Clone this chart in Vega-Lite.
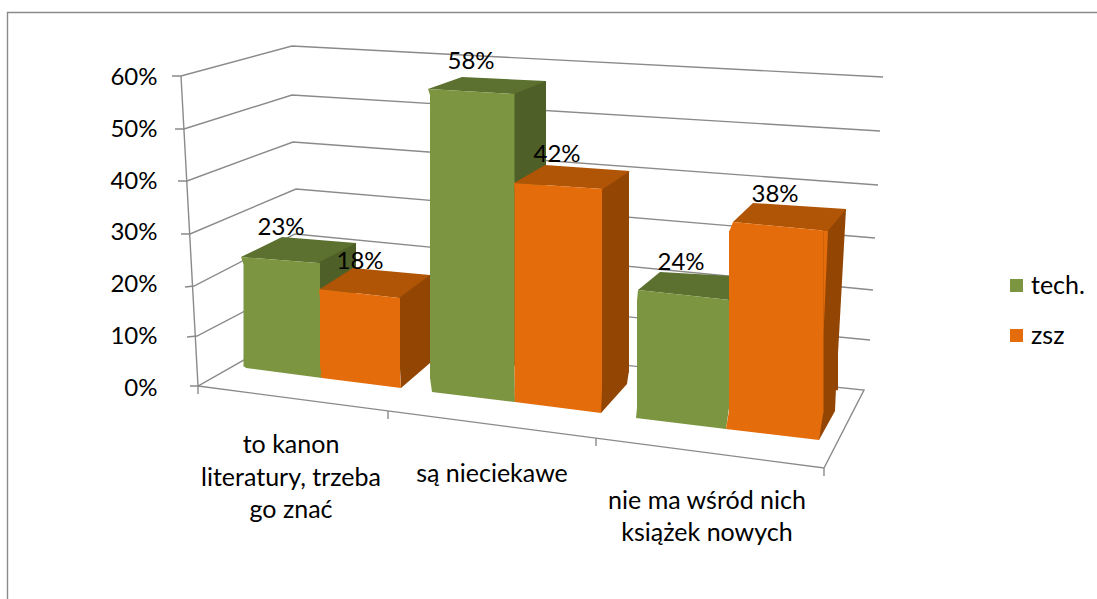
{
"$schema":"https://vega.github.io/schema/vega-lite/v6.json",
"width":1097,"height":599,"padding":0,"autosize":"none","background":"white",
"config":{"view":{"stroke":null},"font":"Lato"},
"datasets":{
"bars":[
{"category":"to kanon literatury, trzeba go znać","series":"tech.","value":0.23,"bar":"a"},
{"category":"to kanon literatury, trzeba go znać","series":"zsz","value":0.18,"bar":"b"},
{"category":"są nieciekawe","series":"tech.","value":0.58,"bar":"c"},
{"category":"są nieciekawe","series":"zsz","value":0.42,"bar":"d"},
{"category":"nie ma wśród nich książek nowych","series":"tech.","value":0.24,"bar":"e"},
{"category":"nie ma wśród nich książek nowych","series":"zsz","value":0.38,"bar":"f"}],
"ticks":[{"tick":0},{"tick":0.1},{"tick":0.2},{"tick":0.3},{"tick":0.4},{"tick":0.5},{"tick":0.6}],
"cats":[
{"category":"to kanon literatury, trzeba go znać","label":"to kanon|literatury, trzeba|go znać","group":"a","value":0},
{"category":"są nieciekawe","label":"są nieciekawe","group":"b","value":0},
{"category":"nie ma wśród nich książek nowych","label":"nie ma wśród nich|książek nowych","group":"c","value":0}]
},
"data":{"name":"bars"},
"encoding":{
"x":{"field":"category","type":"nominal","sort":null,"axis":null,"scale":{"domain":["to kanon literatury, trzeba go znać","są nieciekawe","nie ma wśród nich książek nowych"],"range":[217,832],"paddingInner":0,"paddingOuter":0}},
"y":{"field":"value","type":"quantitative","scale":{"domain":[0,0.6],"range":[386.5,76],"nice":false,"zero":false},"axis":{"orient":"left","offset":-160,"values":[0,0.1,0.2,0.3,0.4,0.5,0.6],"format":".0%","title":null,"domain":false,"grid":false,"ticks":false,"labelPadding":3,"labelFont":"Lato","labelFontSize":24,"labelColor":"#000000","labelOffset":1.5}}
},
"layer":[
{"data":{"name":"ticks"},
 "mark":{"type":"point","filled":false,"opacity":1,"size":4,"stroke":"#8a8a8a","strokeWidth":1.4,"fill":"transparent",
 "shape":{"expr":"{0:'M-129.5,-0.5L-121.5,-0.5L-24.5,-55.5L544.5,3.5L504.5,81.5L-121.5,-0.5M-138.5,-310.5L-121.5,-0.5L-121.5,7.5M68.5,24.5L68.5,32.5M276.5,51.5L276.5,59.5M504.5,81.5L504.5,89.5',10:'M-132.5,2.25L-122.5,1.25L-24.5,-49.75L550.5,5.25',20:'M-134.5,4L-125.5,3L-24.5,-49L553.5,7',30:'M-138.5,2.75L-129.5,2.75L-23.5,-42.25L555.5,6.75',40:'M-141.5,1.5L-132.5,1.5L-26.5,-37.5L558.5,5.5',50:'M-144.5,1.25L-135.5,1.25L-27.5,-32.75L560.5,3.25',60:'M-147.5,0L-138.5,0L-27.5,-30L563.5,1M-312,523L-312,-63.5L777.5,-63.5'}[round(datum.tick*100)]"}},
 "encoding":{"x":{"datum":"to kanon literatury, trzeba go znać"},
 "y":{"field":"tick","type":"quantitative"}}},
{"mark":{"type":"bar","xOffset":{"expr":"{a:17.5,b:95,c:5.5,d:90.5,e:9.5,f:100.5}[datum.bar]"},"width":{"expr":"{a:38,b:31,c:32,d:28,e:22,f:16}[datum.bar]"},"yOffset":{"expr":"{a:-24.5,b:-18.35,c:-5.35,d:1.85,e:14.7,f:19.15}[datum.bar]"},"y2Offset":{"expr":"{a:-24.5,b:-18.35,c:-5.35,d:1.85,e:14.7,f:19.15}[datum.bar]"},"fill":{"expr":"datum.series=='zsz'?'#934604':'#4e5f28'"}},
 "encoding":{"y2":{"datum":0.03}}},
{"transform":[{"filter":"datum.series=='zsz'"}],
 "mark":{"type":"point","filled":true,"opacity":1,"size":4,"strokeWidth":0,"fill":"#934604",
 "shape":{"expr":"{b:'M79.5,-36.5L110.5,-36.5L110.5,-23.5L81.5,1.5Z',d:'M76.5,-16.5L104.5,-16.5L102.5,-2.5L76.5,26.5Z',f:'M90.5,1.5L106.5,1.5L105.5,24.5L89.5,53.5Z'}[datum.bar]"}},
 "encoding":{"y":{"datum":0}}},
{"transform":[{"filter":"datum.bar=='f'"}],
 "mark":{"type":"point","filled":true,"opacity":1,"size":4,"strokeWidth":0,"fill":"#934604",
 "shape":"M105.5,19.15L116.5,19.15L106.5,200L105.5,200Z"}},
{"mark":{"type":"point","filled":true,"opacity":1,"size":4,"strokeWidth":0,"fill":{"expr":"datum.series=='zsz'?'#b05405':'#5c702f'"},
 "shape":{"expr":"{a:'M-78.5,-10.5L-1.5,-4.5L36.5,-24.5L-37.5,-30.5Z',b:'M0.5,-4.35L79.5,4.65L110.5,-18.35L33.5,-25.35Z',c:'M-96.5,2.65L-10.5,7.65L21.5,-5.35L-62.5,-9.35Z',d:'M-10.5,13.85L78.5,19.85L105.5,1.85L20.5,-4.15Z',e:'M-91.5,27.7L0.5,37.7L20.5,14.7L-69.5,9.7Z',f:'M3.5,32.15L98.5,41.15L116.5,19.15L23.5,13.15Z'}[datum.bar]"}}},
{"mark":{"type":"bar","xOffset":{"expr":"{a:-37.75,b:40.5,c:-52.25,d:33.75,e:-46.5,f:46.75}[datum.bar]"},"width":{"expr":"{a:76.5,b:80,c:84.5,d:87.5,e:92,f:94.5}[datum.bar]"},"yOffset":{"expr":"{a:-4.5,b:4.65,c:7.65,d:19.85,e:37.7,f:41.15}[datum.bar]"},"y2Offset":{"expr":"{a:-4.5,b:4.65,c:7.65,d:19.85,e:37.7,f:41.15}[datum.bar]"}},
 "encoding":{"y2":{"datum":0.03},
 "color":{"field":"series","type":"nominal","scale":{"domain":["tech.","zsz"],"range":["#7b9540","#e46c0a"]},
 "legend":{"orient":"none","legendX":1004,"legendY":273,"title":null,"symbolType":"square","symbolSize":169,"symbolStrokeWidth":0,"labelFont":"Lato","labelFontSize":25,"labelColor":"#000000","rowPadding":24,"labelOffset":2}}}},
{"mark":{"type":"point","filled":true,"opacity":1,"size":4,"strokeWidth":0,"fill":{"expr":"datum.series=='zsz'?'#e46c0a':'#7b9540'"},
 "shape":{"expr":"{a:'M-78.5,-10.5L-1.5,-4.5L0.5,-3.5L-76,-3.5Z',b:'M-0.5,-4.35L79.5,4.65L80.5,5.65L0.5,5.65Z',c:'M-96.5,2.65L-10.5,7.65L-10,8.65L-94.5,8.65Z',d:'M-10.5,13.85L78.5,19.85L77.5,20.85L-10,20.85Z',e:'M-91.5,27.7L0.5,37.7L-0.5,38.7L-92.5,38.7Z',f:'M3.5,32.15L98.5,41.15L94,145L94,42.15L-0.5,42.15Z'}[datum.bar]"}}},
{"mark":{"type":"point","filled":true,"opacity":1,"size":4,"strokeWidth":0,"fill":{"expr":"datum.series=='zsz'?'#e46c0a':'#7b9540'"},
 "shape":{"expr":"{a:'M-76,-21L0.5,-21L2.5,-8.5L-73.5,-18.5Z',b:'M0.5,-11.9L80.5,-11.9L81.5,1.5L2.5,-8.5Z',c:'M-94.5,-8.9L-10,-8.9L-9.5,15.5L-92.5,5.5Z',d:'M-10,3.3L77.5,3.3L76.5,26.5L-9.5,15.5Z',e:'M-92.5,21.2L-0.5,21.2L-3.5,42.5L-93.5,31.5Z',f:'M-0.5,24.5L94,24.5L89.5,53.5L-3.5,42.5Z'}[datum.bar]"}},
 "encoding":{"y":{"datum":0}}},
{"mark":{"type":"text","font":"Lato","fontSize":24,"color":"#000000","align":"center","baseline":"middle","xOffset":{"expr":"{a:-38.5,b:40.5,c:-53.5,d:32.5,e:-48.5,f:45.5}[datum.bar]"},"yOffset":{"expr":"{a:-39.5,b:-31.35,c:-24.35,d:-14.15,e:0.7,f:5.15}[datum.bar]"}},
 "encoding":{"text":{"field":"value","type":"quantitative","format":".0%"}}},
{"data":{"name":"cats"},
 "mark":{"type":"text","font":"Lato","fontSize":25,"color":"#000000","align":"center","baseline":"middle","lineBreak":"|","lineHeight":32.5,"xOffset":{"expr":"{a:-28.5,b:-32.5,c:-22.5}[datum.group]"},"yOffset":{"expr":"{a:58.5,b:87.5,c:114}[datum.group]"}},
 "encoding":{"text":{"field":"label","type":"nominal"}}}
]
}
